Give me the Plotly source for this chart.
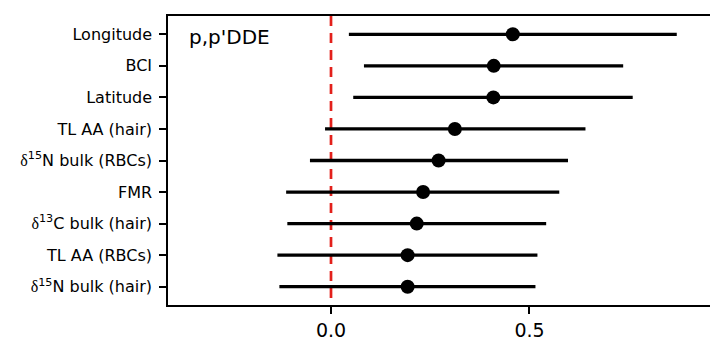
import plotly.graph_objects as go

d = "<span style=\"font-family:'Liberation Serif'\">δ</span>"
labels = ["Longitude", "BCI", "Latitude", "TL AA (hair)",
          d + "<sup>15</sup>N bulk (RBCs)", "FMR",
          d + "<sup>13</sup>C bulk (hair)", "TL AA (RBCs)",
          d + "<sup>15</sup>N bulk (hair)"]
estimate = [0.458, 0.410, 0.409, 0.312, 0.271, 0.232, 0.216, 0.193, 0.193]
lower = [0.045, 0.083, 0.056, -0.015, -0.053, -0.113, -0.110, -0.135, -0.130]
upper = [0.871, 0.736, 0.760, 0.641, 0.597, 0.575, 0.542, 0.520, 0.515]
x_ticks = [0.0, 0.5]
x_ticklabels = ["0.0", "0.5"]
panel_label = "p,p'DDE"

pos = list(range(1, len(labels) + 1))
fig = go.Figure()
fig.add_trace(go.Scatter(
    x=estimate, y=pos, mode="markers",
    marker=dict(size=14, color="black"),
    error_x=dict(type="data", symmetric=False,
                 array=[u - e for u, e in zip(upper, estimate)],
                 arrayminus=[e - l for e, l in zip(estimate, lower)],
                 thickness=3.3, width=0, color="black"),
    showlegend=False, hoverinfo="skip"))

fig.add_shape(type="line", x0=0, x1=0, xref="x", y0=1, y1=0, yref="paper",
              line=dict(color="#e3201b", width=2.7, dash="10px,7px"), layer="below")

fig.add_annotation(text=panel_label, xref="paper", yref="paper", x=0.035, y=0.928,
                   xanchor="left", yanchor="middle", showarrow=False,
                   font=dict(size=20, color="black", family="DejaVu Sans"))

fig.update_layout(
    width=710, height=341,
    margin=dict(l=168, r=0, t=16, b=36),
    plot_bgcolor="white", paper_bgcolor="white",
    font=dict(family="DejaVu Sans", color="black", size=16),
    xaxis=dict(range=[-0.4106, 0.9547], tickvals=x_ticks, ticktext=x_ticklabels,
               showgrid=False, zeroline=False, showline=True, mirror=True,
               linecolor="black", linewidth=1.5, ticks="outside", ticklen=7,
               tickwidth=1.5, tickcolor="black",
               tickfont=dict(size=19, family="DejaVu Sans", color="black")),
    yaxis=dict(range=[9.58, 0.42], tickvals=pos, ticktext=labels,
               showgrid=False, zeroline=False, showline=True, mirror=False,
               linecolor="black", linewidth=1.5, ticks="outside", ticklen=7,
               tickwidth=1.5, tickcolor="black",
               tickfont=dict(size=16, family="DejaVu Sans", color="black"),
               ticklabelstandoff=4),
)
fig.write_html("out.html")
